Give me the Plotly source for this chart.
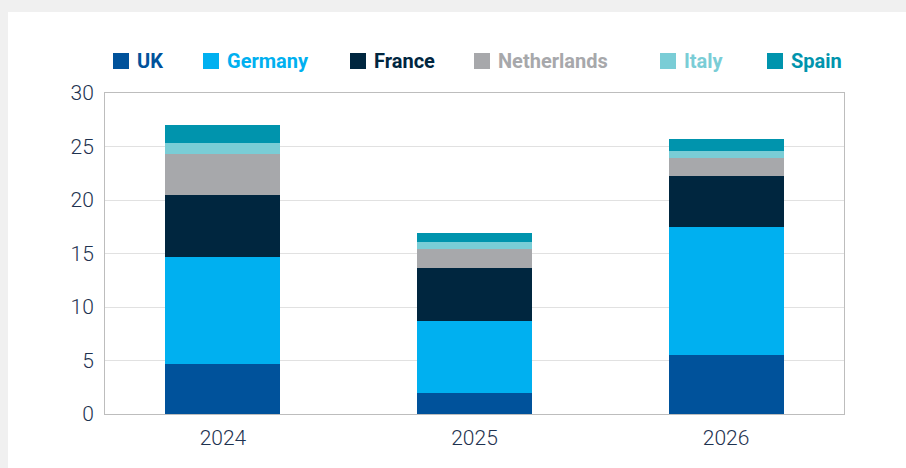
import plotly.graph_objects as go

years = ["2024", "2025", "2026"]
series_names = ["UK", "Germany", "France", "Netherlands", "Italy", "Spain"]
uk = [4.67, 1.96, 5.51]
germany = [10.0, 6.73, 11.97]
france = [5.8, 4.95, 4.76]
netherlands = [3.83, 1.78, 1.69]
italy = [1.03, 0.65, 0.65]
spain = [1.67, 0.85, 1.12]
values = [uk, germany, france, netherlands, italy, spain]
colors = ["#00529b", "#00b0f0", "#00263f", "#a7a8ab", "#7acdd6", "#0094ad"]
y_ticks = [0, 5, 10, 15, 20, 25, 30]

W, H = 906, 468
L, R, T, B = 105, 62, 93, 54
pw, ph = W - L - R, H - T - B

def px_x(px):
    return (px - L) / pw

def px_y(py):
    return (H - B - py) / ph

FONT = "Roboto, Liberation Sans Narrow, sans-serif"
TEXT = "#1e3250"

fig = go.Figure()
for name, vals, col in zip(series_names, values, colors):
    fig.add_trace(go.Bar(x=years, y=vals, name=name, marker=dict(color=col, line=dict(width=0)),
                         showlegend=False))

# background card
shapes = [dict(type="rect", xref="paper", yref="paper", x0=px_x(8), x1=px_x(W + 5),
               y0=px_y(H + 5), y1=px_y(12), fillcolor="white", line=dict(width=0), layer="below")]

# manual legend
legend_px = [113, 203, 350, 474, 660, 767]
annotations = []
for name, col, lx in zip(series_names, colors, legend_px):
    shapes.append(dict(type="rect", xref="paper", yref="paper", x0=px_x(lx), x1=px_x(lx + 16),
                       y0=px_y(69), y1=px_y(53), fillcolor=col, line=dict(width=0)))
    annotations.append(dict(xref="paper", yref="paper", x=px_x(lx + 22), y=px_y(61),
                            xanchor="left", yanchor="middle", showarrow=False,
                            text="<b>" + name + "</b>", font=dict(family=FONT, size=20, color=col)))

fig.update_layout(
    width=W, height=H,
    margin=dict(l=L, r=R, t=T, b=B),
    paper_bgcolor="#f0f0f0",
    plot_bgcolor="white",
    barmode="stack",
    bargap=0.543,
    font=dict(family=FONT, size=21, color=TEXT),
    shapes=shapes,
    annotations=annotations,
    xaxis=dict(range=[-0.469, 2.469], showline=True, linecolor="#bdbdbd", linewidth=1, mirror=True,
               ticks="", ticklabelstandoff=5, tickfont=dict(size=21, color=TEXT, weight=300)),
    yaxis=dict(range=[0, 30], tickvals=y_ticks, showline=True, linecolor="#bdbdbd", linewidth=1,
               mirror=True, showgrid=True, gridcolor="#e1e1e1", gridwidth=1, zeroline=False,
               ticks="", ticklabelstandoff=6, tickfont=dict(size=21, color=TEXT, weight=300)),
)

fig.write_html("out.html", config={"displayModeBar": False},
               post_script="document.body.style.margin='0';document.body.style.background='#f0f0f0';")
